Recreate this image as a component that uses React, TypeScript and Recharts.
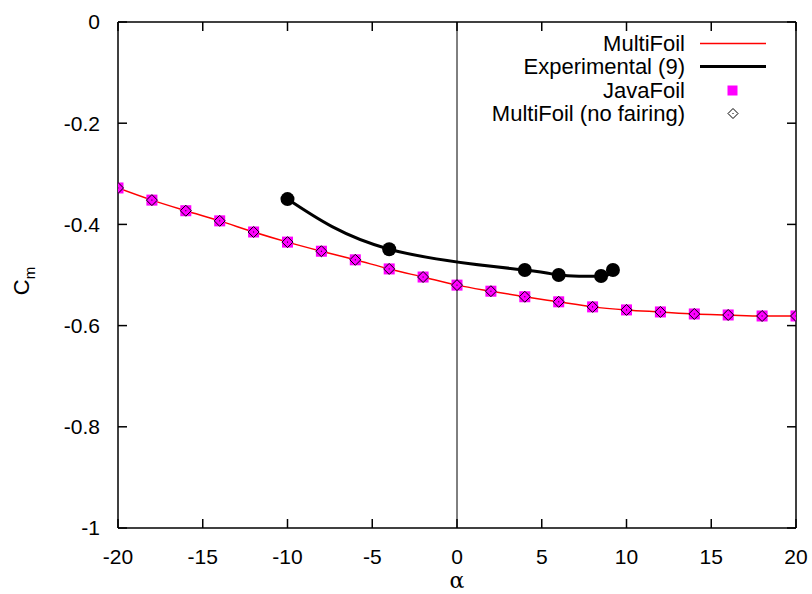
import React from "react";
import {
  ComposedChart,
  Line,
  Scatter,
  XAxis,
  YAxis,
  ReferenceLine,
  Legend,
} from "recharts";

// angle of attack (deg) used by the panel-method runs
const alpha = [-20, -18, -16, -14, -12, -10, -8, -6, -4, -2, 0, 2, 4, 6, 8, 10, 12, 14, 16, 18, 20];
const multiFoilCm = [
  -0.328, -0.352, -0.373, -0.393, -0.415, -0.435, -0.453, -0.47, -0.488, -0.504, -0.52,
  -0.532, -0.543, -0.553, -0.563, -0.569, -0.573, -0.577, -0.579, -0.581, -0.581,
];
const javaFoilCm = [
  -0.328, -0.352, -0.373, -0.393, -0.415, -0.435, -0.453, -0.47, -0.488, -0.504, -0.52,
  -0.532, -0.543, -0.553, -0.563, -0.569, -0.573, -0.577, -0.579, -0.581, -0.581,
];
const noFairingCm = [
  -0.328, -0.352, -0.373, -0.393, -0.415, -0.435, -0.453, -0.47, -0.488, -0.504, -0.52,
  -0.532, -0.543, -0.553, -0.563, -0.569, -0.573, -0.577, -0.579, -0.581, -0.581,
];

// wind tunnel measurements
const expAlpha = [-10, -4, 4, 6, 8.5, 9.2];
const expCm = [-0.35, -0.449, -0.49, -0.5, -0.502, -0.49];

const xTicks = [-20, -15, -10, -5, 0, 5, 10, 15, 20];
const yTicks = [0, -0.2, -0.4, -0.6, -0.8, -1];

const legendItems = [
  { name: "MultiFoil", kind: "redline" },
  { name: "Experimental (9)", kind: "blackline" },
  { name: "JavaFoil", kind: "square" },
  { name: "MultiFoil (no fairing)", kind: "diamond" },
];

const FONT = "'Liberation Sans', Arial, sans-serif";

// plot box (set by the chart margins and axis sizes below)
const W = 812;
const H = 594;
const M = { top: 22, right: 16, bottom: 0, left: 0 };
const Y_AXIS_W = 118;
const X_AXIS_H = 66;
const BOX = {
  left: M.left + Y_AXIS_W,
  right: W - M.right,
  top: M.top,
  bottom: H - M.bottom - X_AXIS_H,
};
const TICK_LEN = 9;

const toRows = (xs: number[], ys: number[]) => xs.map((a, i) => ({ a, cm: ys[i] }));

const multiData = toRows(alpha, multiFoilCm);
const javaData = toRows(alpha, javaFoilCm);
const noFairData = toRows(alpha, noFairingCm);
const expData = toRows(expAlpha, expCm);

// tick label plus inward tick marks on bottom and top edges
function XTick(props: any) {
  const { x, y, payload } = props;
  return (
    <g>
      <line x1={x} x2={x} y1={BOX.bottom} y2={BOX.bottom - TICK_LEN} stroke="#000" strokeWidth={1.5} />
      <line x1={x} x2={x} y1={BOX.top} y2={BOX.top + TICK_LEN} stroke="#000" strokeWidth={1.5} />
      <text x={x} y={y} dy="0.71em" textAnchor="middle" fontFamily={FONT} fontSize={21} fill="#000">
        {payload.value}
      </text>
    </g>
  );
}

// tick label plus inward tick marks on left and right edges
function YTick(props: any) {
  const { x, y, payload } = props;
  return (
    <g>
      <line x1={BOX.left} x2={BOX.left + TICK_LEN} y1={y} y2={y} stroke="#000" strokeWidth={1.5} />
      <line x1={BOX.right} x2={BOX.right - TICK_LEN} y1={y} y2={y} stroke="#000" strokeWidth={1.5} />
      <text x={x} y={y} dy="0.355em" textAnchor="end" fontFamily={FONT} fontSize={21} fill="#000">
        {payload.value}
      </text>
    </g>
  );
}

function Square(props: any) {
  const { cx, cy } = props;
  if (cx == null || cy == null) return <g />;
  return <rect x={cx - 5.5} y={cy - 5.5} width={11} height={11} fill="#ff00ff" stroke="none" />;
}

function Diamond(props: any) {
  const { cx, cy } = props;
  if (cx == null || cy == null) return <g />;
  const r = 5.5;
  return (
    <g>
      <path
        d={`M${cx},${cy - r}L${cx + r},${cy}L${cx},${cy + r}L${cx - r},${cy}Z`}
        fill="none"
        stroke="#000"
        strokeWidth={1}
      />
      <rect x={cx - 0.5} y={cy - 0.5} width={1} height={1} fill="#000" />
    </g>
  );
}

function LegendSample({ kind }: { kind: string }) {
  return (
    <svg width={66} height={23} style={{ display: "block" }}>
      {kind === "redline" && <line x1={0} x2={66} y1={11.5} y2={11.5} stroke="#ff0000" strokeWidth={1.5} />}
      {kind === "blackline" && <line x1={0} x2={66} y1={11.5} y2={11.5} stroke="#000" strokeWidth={3} />}
      {kind === "square" && <rect x={27.5} y={6.5} width={10} height={10} fill="#ff00ff" />}
      {kind === "diamond" && (
        <g>
          <path d="M33,6.5L38,11.5L33,16.5L28,11.5Z" fill="none" stroke="#000" strokeWidth={1} />
          <rect x={32.5} y={11} width={1} height={1} fill="#000" />
        </g>
      )}
    </svg>
  );
}

function KeyBox() {
  return (
    <div style={{ fontFamily: FONT, fontSize: 22, color: "#000" }}>
      {legendItems.map((it) => (
        <div key={it.name} style={{ display: "flex", alignItems: "center", height: 23.3 }}>
          <div style={{ width: 225, textAlign: "right", lineHeight: "23px", whiteSpace: "nowrap" }}>{it.name}</div>
          <div style={{ width: 15 }} />
          <LegendSample kind={it.kind} />
        </div>
      ))}
    </div>
  );
}

function CmLabel() {
  const cx = 29;
  const cy = 281;
  return (
    <text
      x={cx}
      y={cy}
      transform={`rotate(-90, ${cx}, ${cy})`}
      textAnchor="middle"
      fontFamily={FONT}
      fontSize={22}
      fill="#000"
    >
      C
      <tspan dy={6} fontSize={15}>
        m
      </tspan>
    </text>
  );
}

export default function App() {
  return (
    <div style={{ position: "absolute", left: 0, top: 0, background: "#fff" }}>
      <ComposedChart width={W} height={H} margin={M}>
        <XAxis
          dataKey="a"
          type="number"
          domain={[-20, 20]}
          ticks={xTicks}
          allowDataOverflow
          height={X_AXIS_H}
          tickLine={false}
          tickMargin={15}
          tick={<XTick />}
          axisLine={{ stroke: "#000", strokeWidth: 1.5 }}
          label={{ value: "α", position: "insideBottom", offset: 6, fill: "#000", fontSize: 22, fontFamily: "'DejaVu Serif', serif" }}
        />
        <YAxis
          type="number"
          domain={[-1, 0]}
          ticks={yTicks}
          allowDataOverflow
          width={Y_AXIS_W}
          tickLine={false}
          tickMargin={12}
          tick={<YTick />}
          axisLine={{ stroke: "#000", strokeWidth: 1.5 }}
          label={{ content: <CmLabel /> }}
        />
        {/* top and right edges of the frame */}
        <ReferenceLine y={0} stroke="#000" strokeWidth={1.5} ifOverflow="visible" />
        <ReferenceLine x={20} stroke="#000" strokeWidth={1.5} ifOverflow="visible" />
        <ReferenceLine x={0} stroke="#000" strokeWidth={1} />
        <Legend
          layout="vertical"
          align="center"
          verticalAlign="middle"
          content={() => <KeyBox />}
          wrapperStyle={{ left: 460, top: 32, width: 320 }}
        />
        <Line
          data={multiData}
          dataKey="cm"
          type="monotone"
          stroke="#ff0000"
          strokeWidth={1.5}
          dot={false}
          activeDot={false}
          isAnimationActive={false}
        />
        <Line
          data={expData}
          dataKey="cm"
          type="natural"
          stroke="#000"
          strokeWidth={3}
          dot={{ r: 7, fill: "#000", stroke: "#000", strokeWidth: 0 }}
          activeDot={false}
          isAnimationActive={false}
        />
        <Scatter
          data={javaData}
          dataKey="cm"
          fill="#ff00ff"
          shape={(p: any) => <Square {...p} />}
          isAnimationActive={false}
        />
        <Scatter
          data={noFairData}
          dataKey="cm"
          fill="none"
          shape={(p: any) => <Diamond {...p} />}
          isAnimationActive={false}
        />
      </ComposedChart>
    </div>
  );
}
